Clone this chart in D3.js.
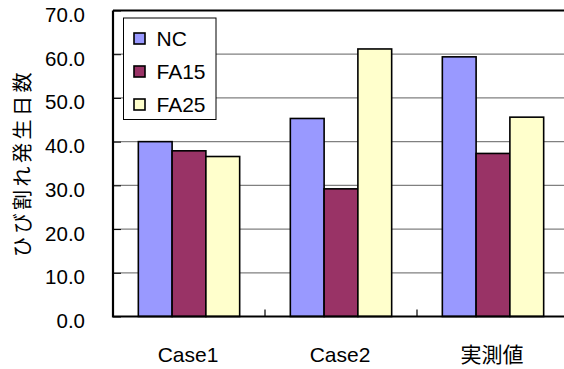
<!DOCTYPE html>
<html>
<head>
<meta charset="utf-8">
<script src="https://cdn.jsdelivr.net/npm/d3@7"></script>
<style>
  html, body { margin: 0; padding: 0; background: #fff; }
  svg { display: block; }
</style>
</head>
<body>
<svg id="chart" width="564" height="369"></svg>
<script>
// Days until cracking, per case and mix
const categories = ["Case1", "Case2", "実測値"];
const seriesNames = ["NC", "FA15", "FA25"];
const ncValues   = [40.0, 45.3, 59.4];
const fa15Values = [37.9, 29.2, 37.3];
const fa25Values = [36.6, 61.2, 45.6];
const yTicks = [0, 10, 20, 30, 40, 50, 60, 70];
const yTitle = "ひび割れ発生日数";
const colors = ["#9999FF", "#993366", "#FFFFCC"];

const values = [ncValues, fa15Values, fa25Values];
const LATIN = "'Liberation Sans', Arial, sans-serif";
const CJK = "'Noto Sans CJK JP', sans-serif";

const svg = d3.select("#chart");
const plot = { left: 113, right: 569, top: 10.5, bottom: 316.5 };

const x = d3.scaleBand().domain(categories).range([plot.left, plot.right]).padding(0);
// Bars take 3 of 4.5 slots per category (gap width 150%)
const inner = d3.scaleBand().domain(seriesNames)
  .range([0, x.bandwidth()]).paddingInner(0).paddingOuter(0.75);
const y = d3.scaleLinear().domain([0, 70]).range([plot.bottom, plot.top]);

// Horizontal gridlines
svg.append("g")
  .selectAll("line")
  .data(yTicks.filter(d => d > 0 && d < 70))
  .join("line")
  .attr("x1", plot.left).attr("x2", plot.right)
  .attr("y1", d => y(d)).attr("y2", d => y(d))
  .attr("stroke", "#808080").attr("stroke-width", 1.2);

// Bars
const groups = svg.append("g")
  .selectAll("g")
  .data(categories)
  .join("g")
  .attr("transform", d => `translate(${x(d)},0)`);

groups.selectAll("rect")
  .data((c, ci) => seriesNames.map((s, si) => ({ s, si, v: values[si][ci] })))
  .join("rect")
  .attr("x", d => inner(d.s))
  .attr("width", inner.bandwidth())
  .attr("y", d => y(d.v))
  .attr("height", d => y(0) - y(d.v))
  .attr("fill", d => colors[d.si])
  .attr("stroke", "#000")
  .attr("stroke-width", 1.6);

// Y axis with labels
const yAxis = d3.axisLeft(y).tickValues(yTicks).tickFormat(d3.format(".1f"))
  .tickSizeInner(-8).tickSizeOuter(0).tickPadding(28);
const gy = svg.append("g").attr("transform", `translate(${plot.left},0)`).call(yAxis);
gy.select(".domain").remove();
gy.selectAll(".tick line").attr("stroke", "#000").attr("stroke-width", 1);
gy.selectAll(".tick text")
  .style("font-family", LATIN)
  .style("font-size", "20.5px")
  .attr("fill", "#000")
  .attr("dy", null)
  .attr("y", 11);

// X axis: category labels with inward ticks at category boundaries
svg.append("g")
  .selectAll("line")
  .data(categories.slice(1))
  .join("line")
  .attr("x1", d => x(d)).attr("x2", d => x(d))
  .attr("y1", plot.bottom).attr("y2", plot.bottom - 7)
  .attr("stroke", "#000").attr("stroke-width", 1.2);

svg.append("g")
  .selectAll("text")
  .data(categories)
  .join("text")
  .attr("x", d => x(d) + x.bandwidth() / 2 - 1)
  .attr("y", 361.5)
  .attr("text-anchor", "middle")
  .style("font-size", "21px")
  .style("font-family", d => /[^\x00-\x7F]/.test(d) ? CJK : LATIN)
  .text(d => d);

// Plot frame: left, bottom and top edges
svg.append("path")
  .attr("d", `M${plot.left},${plot.top}H${plot.right}M${plot.left},${plot.top}V${plot.bottom}H${plot.right}`)
  .attr("fill", "none").attr("stroke", "#000").attr("stroke-width", 2.2);

// Y axis title
svg.append("text")
  .attr("transform", "translate(29.5,163) rotate(-90)")
  .attr("text-anchor", "middle")
  .attr("letter-spacing", 3.5)
  .style("font-size", "20px")
  .style("font-family", CJK)
  .text(yTitle);

// Legend
const legend = svg.append("g").attr("transform", "translate(123.5,18)");
legend.append("rect")
  .attr("width", 92.5).attr("height", 101.5)
  .attr("fill", "#fff").attr("stroke", "#000").attr("stroke-width", 1);
const rows = legend.selectAll("g.row")
  .data(seriesNames)
  .join("g")
  .attr("class", "row")
  .attr("transform", (d, i) => `translate(0,${21 + i * 33})`);
rows.append("rect")
  .attr("x", 10.5).attr("y", -6).attr("width", 11).attr("height", 11)
  .attr("fill", (d, i) => colors[i]).attr("stroke", "#000").attr("stroke-width", 1.6);
rows.append("text")
  .attr("x", 33).attr("y", 7.3)
  .style("font-size", "21px")
  .style("font-family", LATIN)
  .text(d => d);
</script>
</body>
</html>
